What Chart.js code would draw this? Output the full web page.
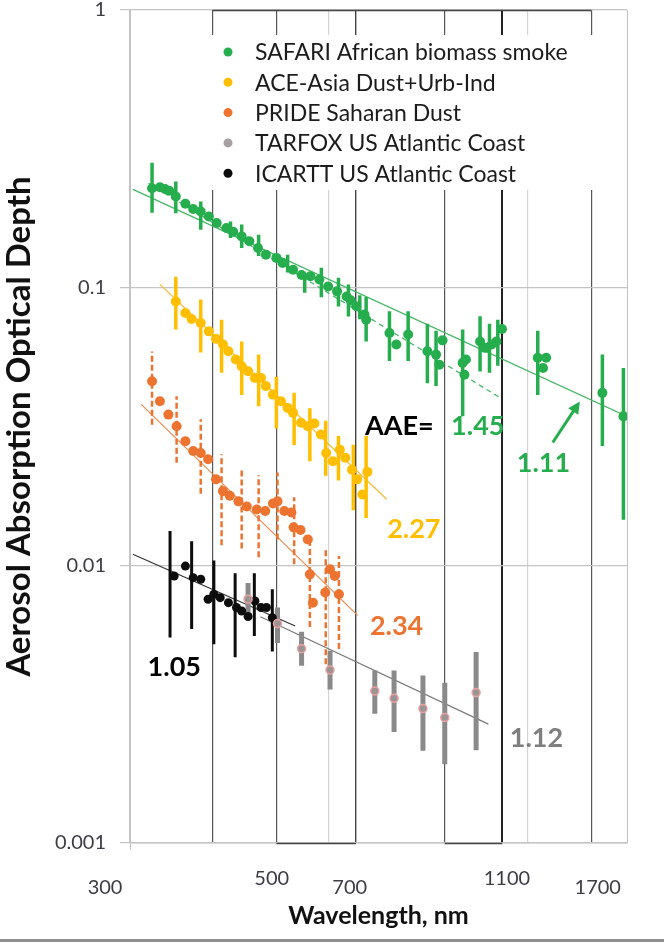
<!DOCTYPE html>
<html>
<head>
<meta charset="utf-8">
<script src="https://cdn.jsdelivr.net/npm/chart.js@4.4.1/dist/chart.umd.min.js"></script>
<style>
  html, body { margin: 0; padding: 0; background: #fff; }
</style>
</head>
<body>
<canvas id="aodChart" width="664" height="943"></canvas>
<script>
// --- data (wavelength in nm, AOD) ---
const seriesNames = ['SAFARI African biomass smoke', 'ACE-Asia Dust+Urb-Ind', 'PRIDE Saharan Dust',
                     'TARFOX US Atlantic Coast', 'ICARTT US Atlantic Coast'];

const safariWl  = [324, 333, 339, 344, 352, 364, 374, 384, 395, 406, 420, 430, 443, 455, 469, 482, 500, 511,
                   530, 546, 563, 581, 599, 618, 639, 648, 661, 680, 684, 742, 760, 792, 847, 873, 883, 893,
                   958, 964, 969, 1018, 1036, 1060, 1078, 1099, 1245, 1268, 1282, 1560, 1679];
const safariAod = [0.228, 0.230, 0.2265, 0.2235, 0.213, 0.2005, 0.192, 0.188, 0.1805, 0.171, 0.164, 0.159,
                   0.153, 0.147, 0.139, 0.1315, 0.128, 0.1227, 0.116, 0.111, 0.110, 0.107, 0.101, 0.097,
                   0.093, 0.090, 0.0857, 0.080, 0.0767, 0.0687, 0.0624, 0.0678, 0.059, 0.0574, 0.0528, 0.0646,
                   0.0536, 0.0486, 0.0551, 0.064, 0.0607, 0.0624, 0.064, 0.071, 0.0559, 0.0514, 0.0559, 0.0418, 0.0344];
const safariBarWl = [324, 352, 384, 426, 443, 470, 520, 552, 585, 621, 643, 669, 684, 742, 792, 847, 873, 958,
                     1018, 1052, 1083, 1245, 1560, 1679];
const safariBarLo = [0.186, 0.1855, 0.1616, 0.151, 0.139, 0.130, 0.1135, 0.0958, 0.0923, 0.0855, 0.0788, 0.077,
                     0.064, 0.0544, 0.0544, 0.0453, 0.0442, 0.0344, 0.0499, 0.0494, 0.0523, 0.0411, 0.0269, 0.0146];
const safariBarHi = [0.282, 0.241, 0.2045, 0.173, 0.169, 0.155, 0.1315, 0.110, 0.118, 0.1086, 0.1026, 0.094,
                     0.0925, 0.0823, 0.0823, 0.0741, 0.0699, 0.0707, 0.0789, 0.0741, 0.0767, 0.0699, 0.0574, 0.0514];
const safariFit111Wl = [303, 1700], safariFit111Aod = [0.226, 0.0344];
const safariFit145Wl = [320, 1093], safariFit145Aod = [0.2376, 0.0401];

const aceWl  = [352, 364, 372, 384, 395, 405, 415, 423, 434, 443, 453, 464, 474, 482, 494, 508, 520, 530,
                545, 558, 571, 584, 595, 609, 624, 636, 651, 663, 675, 687];
const aceAod = [0.0892, 0.0811, 0.0771, 0.0746, 0.0696, 0.0654, 0.0624, 0.059, 0.0551, 0.0521, 0.050, 0.0473,
                0.0473, 0.0442, 0.0412, 0.039, 0.0369, 0.0354, 0.0326, 0.0317, 0.0324, 0.0296, 0.0254, 0.0237,
                0.0261, 0.0244, 0.0221, 0.0204, 0.018, 0.0217];
const aceBarWl = [352, 384, 413, 443, 470, 500, 532, 562, 594, 621, 654, 684];
const aceBarLo = [0.0707, 0.0584, 0.0494, 0.0411, 0.0374, 0.0311, 0.0271, 0.0237, 0.0210, 0.0202, 0.0158, 0.0148];
const aceBarHi = [0.1095, 0.0906, 0.0767, 0.0640, 0.0574, 0.0478, 0.0418, 0.0368, 0.0332, 0.0292, 0.0272, 0.0292];
const aceFitWl = [333, 735], aceFitAod = [0.1028, 0.0173];

const prideWl  = [324, 333, 343, 353, 364, 374, 384, 394, 405, 415, 425, 438, 451, 467, 481, 494, 502, 514,
                  527, 531, 544, 558, 562, 568, 593, 603, 613, 622];
const prideAod = [0.046, 0.039, 0.0349, 0.0317, 0.028, 0.0258, 0.0254, 0.0241, 0.0204, 0.0185, 0.0178, 0.017,
                  0.0163, 0.0159, 0.0157, 0.0167, 0.017, 0.0157, 0.0155, 0.0137, 0.0134, 0.0124, 0.00928,
                  0.00734, 0.00798, 0.00968, 0.00915, 0.00787];
const prideBarWl = [324, 353, 384, 413, 443, 470, 502, 532, 562, 594, 622];
const prideBarLo = [0.0321, 0.0234, 0.0181, 0.0118, 0.0115, 0.0107, 0.0124, 0.0101, 0.0060, 0.0044, 0.0050];
const prideBarHi = [0.0589, 0.0406, 0.0336, 0.0251, 0.0220, 0.0211, 0.0216, 0.0176, 0.0124, 0.0114, 0.0108];
const prideFitWl = [312, 664], prideFitAod = [0.038, 0.0066];

const tarfoxWl  = [453, 502, 546, 603, 705, 754, 834, 900, 1004];
const tarfoxAod = [0.00755, 0.00617, 0.00501, 0.0042, 0.00353, 0.00332, 0.00305, 0.00283, 0.00348];
const tarfoxBarLo = [0.00654, 0.00525, 0.00435, 0.00357, 0.00292, 0.00251, 0.00215, 0.00192, 0.00216];
const tarfoxBarHi = [0.00864, 0.00705, 0.00577, 0.00492, 0.00418, 0.00418, 0.00401, 0.00378, 0.00487];
const tarfoxFitWl = [473, 1048], tarfoxFitAod = [0.00653, 0.00268];

const icarttWl  = [350, 364, 374, 384, 394, 402, 411, 423, 435, 443, 453, 464, 474, 483, 493];
const icarttAod = [0.00915, 0.00994, 0.00903, 0.00891, 0.00755, 0.00787, 0.00765, 0.00734, 0.00705, 0.00685,
                   0.00654, 0.00744, 0.00705, 0.00705, 0.00648];
const icarttBarWl = [345, 372, 402, 433, 463, 493];
const icarttBarLo = [0.0055, 0.0059, 0.0052, 0.00467, 0.00556, 0.00489];
const icarttBarHi = [0.0133, 0.0122, 0.0104, 0.00937, 0.00937, 0.0082];
const icarttFitWl = [303, 534], icarttFitAod = [0.01096, 0.00605];

const aaeLabels = ['1.45', '1.11', '2.27', '2.34', '1.05', '1.12'];
const yTicks = [0.001, 0.01, 0.1, 1];
const xGridAt = [300, 400, 500, 600, 660, 900, 1100, 1200, 1500, 1700];
const xTickLabels = ['300', '500', '700', '1100', '1700'];

// --- styling ---
const GREEN = '#26ad4e', GOLD = '#ffbf00', ORANGE = '#ec7430', BLACK = '#0d0d0d', GRAY = '#8a8a8a';
const seriesColors = [GREEN, GOLD, ORANGE, '#a6a0a0', BLACK];
const FONT = 'Lato, "Open Sans", sans-serif';
const xGridStyle = { 300: ['#c4c4c4', 1], 400: ['#555', 1.2], 500: ['#555', 1.2], 600: ['#d4d4d4', 1.2],
                     660: ['#444', 1.4], 900: ['#555', 1.2], 1100: ['#222', 2], 1200: ['#d4d4d4', 1.2],
                     1500: ['#555', 1.2], 1700: ['#c4c4c4', 1] };
// where the x labels sit in the original (wavelength, pixel y)
const xLabelPlace = [[275, 888], [492, 879], [646, 888], [1118, 879], [1535, 888]];

function pts(xs, ys) { return xs.map((x, i) => ({ x: x, y: ys[i] })); }
function errBars(xs, lo, hi) {
    const out = [];
    xs.forEach((x, i) => { out.push({ x: x, y: lo[i] }, { x: x, y: hi[i] }, { x: x, y: null }); });
    return out;
}
function pointSet(label, data, color, extra) {
    return Object.assign({ label: label, data: data, backgroundColor: color, borderColor: color,
        pointRadius: 5, pointBorderWidth: 0, showLine: false, order: 1 }, extra || {});
}
function barSet(data, color, width, dash) {
    return { label: '', data: data, borderColor: color, borderWidth: width, borderDash: dash || [],
        showLine: true, pointRadius: 0, spanGaps: false, borderCapStyle: 'butt', order: 2 };
}
function fitSet(data, color, width, dash) {
    return { label: '', data: data, borderColor: color, borderWidth: width, borderDash: dash || [],
        showLine: true, pointRadius: 0, order: 3 };
}

// legend panel drawn over the grid inside the plot
const legendPanel = {
    id: 'legendPanel',
    beforeDatasetsDraw(chart) {
        const c = chart.ctx;
        c.save();
        c.fillStyle = '#fff';
        c.fillRect(203, 35, 405, 155);
        c.restore();
    },
    afterDatasetsDraw(chart) {
        const c = chart.ctx;
        c.save();
        c.font = '23px ' + FONT;
        c.textBaseline = 'middle';
        seriesNames.forEach((name, i) => {
            const y = 52 + i * 30.3;
            c.beginPath();
            c.arc(228, y, 4.5, 0, Math.PI * 2);
            c.fillStyle = seriesColors[i];
            c.fill();
            c.fillStyle = '#1c1c1c';
            c.fillText(name, 255, y + 1);
        });
        c.restore();
    }
};

// AAE labels and the arrow
const notes = [
    { text: 'AAE=', wl: 681, aod: 0.0316, color: '#000' },
    { text: aaeLabels[0], wl: 920, aod: 0.0316, color: GREEN },
    { text: aaeLabels[1], wl: 1157, aod: 0.0233, color: GREEN },
    { text: aaeLabels[2], wl: 736, aod: 0.01347, color: GOLD },
    { text: aaeLabels[3], wl: 693, aod: 0.00603, color: ORANGE },
    { text: aaeLabels[4], wl: 319, aod: 0.0043, color: '#000' },
    { text: aaeLabels[5], wl: 1129, aod: 0.00239, color: '#7f7f7f' }
];
const annotate = {
    id: 'annotate',
    afterDraw(chart) {
        const c = chart.ctx, xs = chart.scales.x, ys = chart.scales.y;
        c.save();
        c.font = 'bold 27px ' + FONT;
        c.textBaseline = 'middle';
        notes.forEach(n => {
            c.fillStyle = n.color;
            c.fillText(n.text, xs.getPixelForValue(n.wl), ys.getPixelForValue(n.aod));
        });
        // arrow pointing at the 1.11 line
        const x1 = xs.getPixelForValue(1312), y1 = ys.getPixelForValue(0.0277);
        const x2 = xs.getPixelForValue(1442), y2 = ys.getPixelForValue(0.0389);
        const a = Math.atan2(y2 - y1, x2 - x1);
        c.strokeStyle = GREEN; c.fillStyle = GREEN; c.lineWidth = 3;
        c.beginPath(); c.moveTo(x1, y1); c.lineTo(x2 - 8 * Math.cos(a), y2 - 8 * Math.sin(a)); c.stroke();
        c.beginPath();
        c.moveTo(x2, y2);
        c.lineTo(x2 - 12 * Math.cos(a) + 6 * Math.sin(a), y2 - 12 * Math.sin(a) - 6 * Math.cos(a));
        c.lineTo(x2 - 12 * Math.cos(a) - 6 * Math.sin(a), y2 - 12 * Math.sin(a) + 6 * Math.cos(a));
        c.closePath(); c.fill();

        // x tick labels, placed as in the original
        c.font = '20px ' + FONT;
        c.fillStyle = '#3d3d45';
        c.textAlign = 'center';
        xTickLabels.forEach((t, i) => {
            c.fillText(t, xs.getPixelForValue(xLabelPlace[i][0]), xLabelPlace[i][1]);
        });
        // dark box edges along top and bottom
        c.strokeStyle = '#444'; c.lineWidth = 1.5;
        [[400, 1500, 1]].concat([[500, 660, 0.001], [900, 1100, 0.001]]).forEach(s => {
            const y = Math.round(ys.getPixelForValue(s[2])) + 0.5;
            c.beginPath(); c.moveTo(xs.getPixelForValue(s[0]), y); c.lineTo(xs.getPixelForValue(s[1]), y); c.stroke();
        });
        // frame line at the bottom of the figure
        c.fillStyle = '#8f8f8f';
        c.fillRect(0, 939, 664, 3);
        c.restore();
    }
};

const ctx = document.getElementById('aodChart').getContext('2d');
new Chart(ctx, {
    type: 'scatter',
    data: {
        datasets: [
            pointSet(seriesNames[0], pts(safariWl, safariAod), GREEN),
            pointSet(seriesNames[1], pts(aceWl, aceAod), GOLD),
            pointSet(seriesNames[2], pts(prideWl, prideAod), ORANGE),
            pointSet(seriesNames[3], pts(tarfoxWl, tarfoxAod), '#9a9494',
                     { pointRadius: 4, pointBorderWidth: 1.5, borderColor: '#eaa0a0' }),
            pointSet(seriesNames[4], pts(icarttWl, icarttAod), BLACK, { pointRadius: 4.5 }),
            barSet(errBars(safariBarWl, safariBarLo, safariBarHi), GREEN, 3.5),
            barSet(errBars(aceBarWl, aceBarLo, aceBarHi), GOLD, 3.5),
            barSet(errBars(prideBarWl, prideBarLo, prideBarHi), ORANGE, 2.5, [6, 3]),
            barSet(errBars(tarfoxWl, tarfoxBarLo, tarfoxBarHi), GRAY, 5),
            barSet(errBars(icarttBarWl, icarttBarLo, icarttBarHi), BLACK, 3),
            fitSet(pts(safariFit111Wl, safariFit111Aod), '#45b866', 1.3),
            fitSet(pts(safariFit145Wl, safariFit145Aod), '#45b866', 1.3, [5, 4]),
            fitSet(pts(aceFitWl, aceFitAod), '#f7b733', 1.2),
            fitSet(pts(prideFitWl, prideFitAod), '#ec8a50', 1.2),
            fitSet(pts(tarfoxFitWl, tarfoxFitAod), '#7a7a7a', 1.2),
            fitSet(pts(icarttFitWl, icarttFitAod), '#333', 1.2)
        ]
    },
    options: {
        responsive: false,
        animation: false,
        events: [],
        layout: { padding: { top: 10, right: 37, left: 0, bottom: 0 } },
        plugins: { legend: { display: false }, tooltip: { enabled: false } },
        scales: {
            x: {
                type: 'logarithmic',
                min: 300, max: 1700,
                afterBuildTicks: scale => { scale.ticks = xGridAt.map(v => ({ value: v })); },
                afterFit: scale => { scale.height = 100; },
                ticks: { display: false },
                grid: {
                    color: c => xGridStyle[c.tick.value][0],
                    lineWidth: c => xGridStyle[c.tick.value][1],
                    drawTicks: true, tickLength: 7,
                    tickColor: c => c.tick.value === 300 ? '#c4c4c4' : 'rgba(0,0,0,0)'
                },
                border: { color: '#c4c4c4', width: 1.5 },
                title: {
                    display: true, text: 'Wavelength, nm', color: '#111',
                    font: { family: FONT, size: 25, weight: 'bold' },
                    padding: { top: 0, bottom: 12 }
                }
            },
            y: {
                type: 'logarithmic',
                min: 0.001, max: 1,
                afterBuildTicks: scale => { scale.ticks = yTicks.map(v => ({ value: v })); },
                afterFit: scale => { scale.width = 130; scale.paddingTop = 0; scale.paddingBottom = 0; },
                ticks: {
                    callback: v => String(v), color: '#3d3d45', padding: 14,
                    font: { family: FONT, size: 20 }
                },
                grid: { color: '#c4c4c4', lineWidth: 1.2, tickLength: 10 },
                border: { color: '#c4c4c4', width: 1.5 },
                title: {
                    display: true, text: 'Aerosol Absorption Optical Depth', color: '#111',
                    font: { family: FONT, size: 33, weight: 'bold' },
                    padding: { top: 0, bottom: 0 }
                }
            }
        }
    },
    plugins: [legendPanel, annotate]
});
</script>
</body>
</html>
